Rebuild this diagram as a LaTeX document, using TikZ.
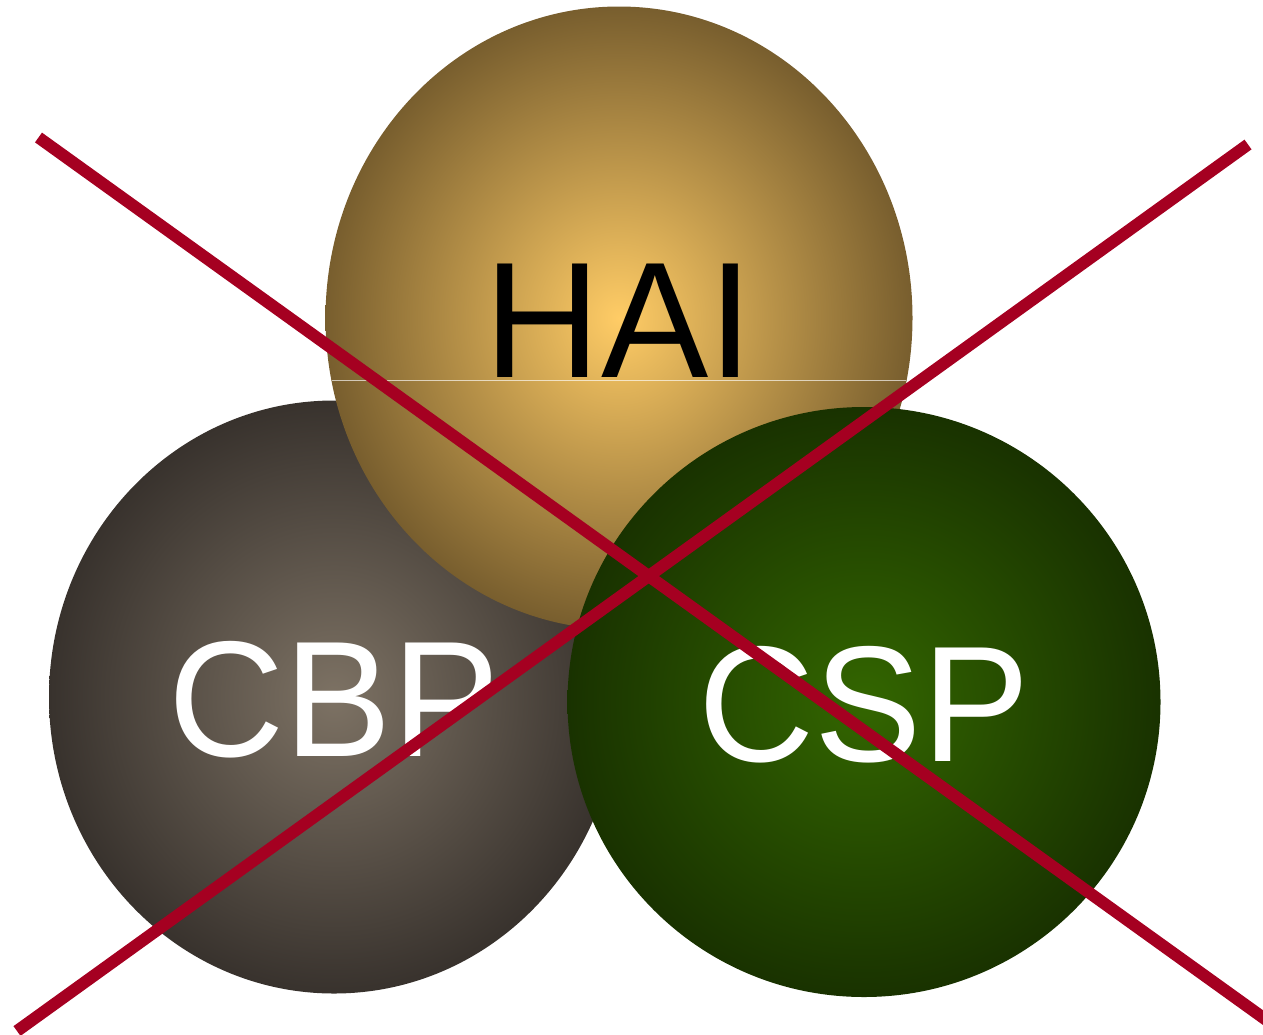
\documentclass[tikz,border=0pt]{standalone}
\usepackage{fontspec}
\usepackage{graphicx}
\setmainfont{Liberation Sans}
\usetikzlibrary{shapes.geometric}
\definecolor{haiin}{HTML}{FFCC66}
\definecolor{haiout}{HTML}{785E2E}
\definecolor{cbpin}{HTML}{7D7264}
\definecolor{cbpout}{HTML}{38322D}
\definecolor{cspin}{HTML}{336600}
\definecolor{cspout}{HTML}{193200}
\definecolor{crossred}{HTML}{A50021}
\newcommand{\balltext}[1]{\scalebox{0.975}[1]{#1}}
\tikzset{
  ball/.style={ellipse, inner sep=0pt, shading=radial, text height=118pt, text depth=0pt,
    font=\fontsize{165}{165}\selectfont},
  cross/.style={draw=crossred, line width=12pt, line cap=butt},
  seam/.style={draw=white, draw opacity=0.65, line width=1pt}
}
\begin{document}
\begin{tikzpicture}[x=1pt,y=-1pt]
\useasboundingbox (0,0) rectangle (1263,1034);
\node[ball, inner color=cbpin, outer color=cbpout, minimum width=570pt, minimum height=593pt, text=white] (cbp) at (334,697) {\balltext{CBP}};
\node[ball, inner color=haiin, outer color=haiout, minimum width=587pt, minimum height=623pt, text=black] (hai) at (619,318) {\balltext{HAI}};
\coordinate (seamL) at (332,380);
\coordinate (seamR) at (906,380);
\draw[seam] (seamL) -- (seamR);
\node[ball, inner color=cspin, outer color=cspout, minimum width=593pt, minimum height=590pt, text=white] (csp) at (864,702) {\balltext{CSP}};
\coordinate (a1) at (38.5,137.5);
\coordinate (a2) at (1290,1037);
\coordinate (b1) at (1248,144.5);
\coordinate (b2) at (17,1031);
\draw[cross] (a1) -- (a2);
\draw[cross] (b1) -- (b2);
\end{tikzpicture}
\end{document}
